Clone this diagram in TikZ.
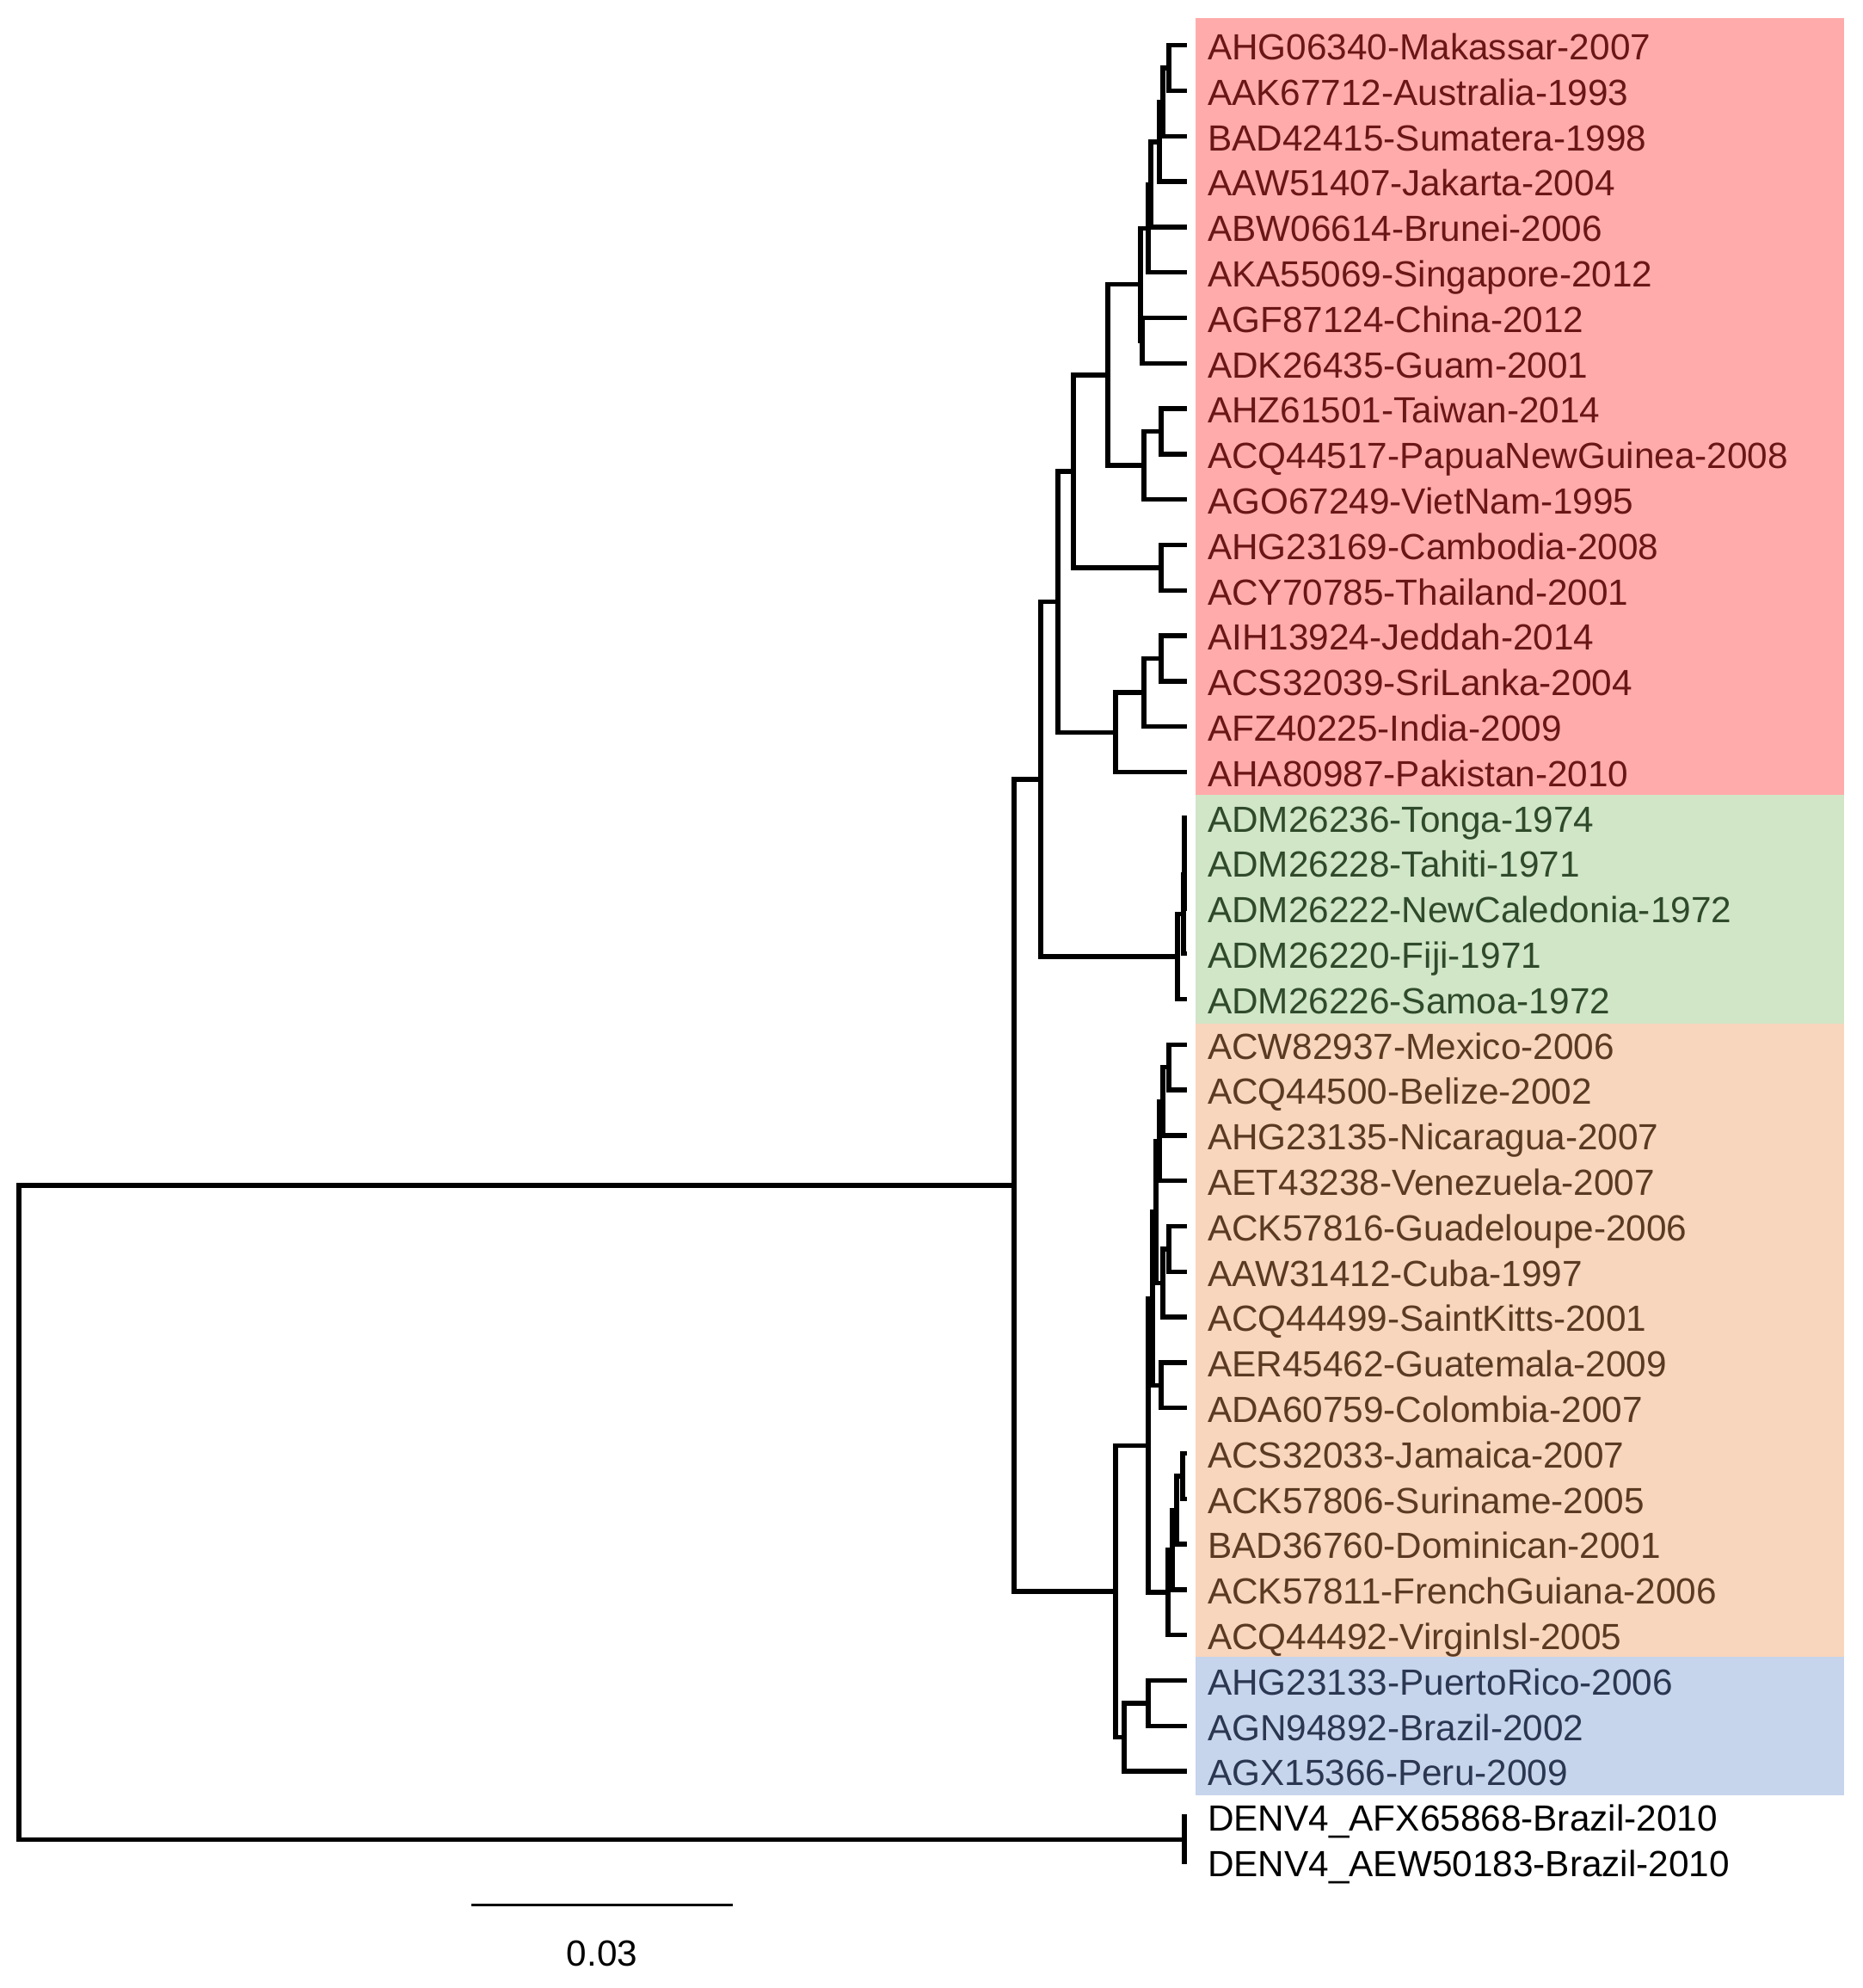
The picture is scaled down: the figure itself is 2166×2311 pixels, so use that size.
\documentclass[tikz,border=0pt]{standalone}
\usepackage{fontspec}
\setmainfont{Liberation Sans}
\usetikzlibrary{calc}
\definecolor{redbg}{HTML}{FFABAB}
\definecolor{greenbg}{HTML}{D1E5C7}
\definecolor{orangebg}{HTML}{F8D5BD}
\definecolor{bluebg}{HTML}{C6D4EC}
\definecolor{redtxt}{HTML}{6B1616}
\definecolor{greentxt}{HTML}{2F4A2A}
\definecolor{orangetxt}{HTML}{5A3A22}
\definecolor{bluetxt}{HTML}{2B3650}
\newcommand\treenode[4]{%
  \path let \p1=(#3), \p2=(#4) in coordinate (#1) at (#2pt, {0.5*(\y1+\y2)});
  \draw[branch] (#3) -| (#1) |- (#4);}
\begin{document}
\begin{tikzpicture}[x=1pt,y=-1pt,
  branch/.style={line width=5.5pt, line join=miter, line cap=butt},
  lbl/.style={anchor=base west, inner sep=0pt, font=\fontsize{42.3}{50}\selectfont}]
\useasboundingbox (0,0) rectangle (2166,2311);
% clade backgrounds
\fill[redbg] (1390,21) rectangle (2144,924);
\fill[greenbg] (1390,924) rectangle (2144,1190);
\fill[orangebg] (1390,1190) rectangle (2144,1926);
\fill[bluebg] (1390,1926) rectangle (2144,2087);
% leaf tips
\foreach \i in {0,...,40} {\coordinate (t\i) at (1380, {52.7+52.8*\i});}
% labels
\foreach \i/\s in {0/AHG06340-Makassar-2007, 1/AAK67712-Australia-1993, 2/BAD42415-Sumatera-1998,
  3/AAW51407-Jakarta-2004, 4/ABW06614-Brunei-2006, 5/AKA55069-Singapore-2012, 6/AGF87124-China-2012,
  7/ADK26435-Guam-2001, 8/AHZ61501-Taiwan-2014, 9/ACQ44517-PapuaNewGuinea-2008, 10/AGO67249-VietNam-1995,
  11/AHG23169-Cambodia-2008, 12/ACY70785-Thailand-2001, 13/AIH13924-Jeddah-2014, 14/ACS32039-SriLanka-2004,
  15/AFZ40225-India-2009, 16/AHA80987-Pakistan-2010}
  {\node[lbl,text=redtxt] (l\i) at (1404, {69.5+52.8*\i}) {\s};}
\foreach \i/\s in {17/ADM26236-Tonga-1974, 18/ADM26228-Tahiti-1971, 19/ADM26222-NewCaledonia-1972,
  20/ADM26220-Fiji-1971, 21/ADM26226-Samoa-1972}
  {\node[lbl,text=greentxt] (l\i) at (1404, {69.5+52.8*\i}) {\s};}
\foreach \i/\s in {22/ACW82937-Mexico-2006, 23/ACQ44500-Belize-2002, 24/AHG23135-Nicaragua-2007,
  25/AET43238-Venezuela-2007, 26/ACK57816-Guadeloupe-2006, 27/AAW31412-Cuba-1997, 28/ACQ44499-SaintKitts-2001,
  29/AER45462-Guatemala-2009, 30/ADA60759-Colombia-2007, 31/ACS32033-Jamaica-2007, 32/ACK57806-Suriname-2005,
  33/BAD36760-Dominican-2001, 34/ACK57811-FrenchGuiana-2006, 35/ACQ44492-VirginIsl-2005}
  {\node[lbl,text=orangetxt] (l\i) at (1404, {69.5+52.8*\i}) {\s};}
\foreach \i/\s in {36/AHG23133-PuertoRico-2006, 37/AGN94892-Brazil-2002, 38/AGX15366-Peru-2009}
  {\node[lbl,text=bluetxt] (l\i) at (1404, {69.5+52.8*\i}) {\s};}
\node[lbl] (l39) at (1404, {69.5+52.8*39}) {DENV4\_AFX65868-Brazil-2010};
\node[lbl] (l40) at (1404, {69.5+52.8*40}) {DENV4\_AEW50183-Brazil-2010};
% red clade
\treenode{A}{1359}{t0}{t1}
\treenode{B}{1352}{A}{t2}
\treenode{C}{1348}{B}{t3}
\treenode{D}{1338}{C}{t4}
\treenode{E}{1335}{D}{t5}
\treenode{G}{1328}{t6}{t7}
\treenode{F}{1326}{E}{G}
\treenode{Y}{1350}{t8}{t9}
\treenode{X}{1330}{Y}{t10}
\treenode{H}{1288}{F}{X}
\treenode{Z}{1350}{t11}{t12}
\treenode{I}{1248}{H}{Z}
\treenode{M}{1350}{t13}{t14}
\treenode{L}{1330}{M}{t15}
\treenode{K}{1297}{L}{t16}
\treenode{J}{1230}{I}{K}
% green clade
\treenode{g1}{1377}{t17}{t18}
\treenode{g2}{1377}{g1}{t19}
\treenode{g3}{1376}{g2}{t20}
\treenode{g4}{1369}{g3}{t21}
\treenode{N}{1210}{J}{g4}
% orange clade
\treenode{a1}{1359}{t22}{t23}
\treenode{a2}{1352}{a1}{t24}
\treenode{a3}{1348}{a2}{t25}
\treenode{b1}{1359}{t26}{t27}
\treenode{b2}{1352}{b1}{t28}
\treenode{a4}{1344}{a3}{b2}
\treenode{c1}{1350}{t29}{t30}
\treenode{a5}{1340}{a4}{c1}
\treenode{d1}{1375}{t31}{t32}
\treenode{d2}{1368}{d1}{t33}
\treenode{d3}{1363}{d2}{t34}
\treenode{R}{1358}{d3}{t35}
\treenode{Q}{1335}{a5}{R}
% blue clade
\treenode{e1}{1335}{t36}{t37}
\treenode{e2}{1307}{e1}{t38}
\treenode{P}{1297}{Q}{e2}
\treenode{O}{1179}{N}{P}
% outgroup and root
\treenode{og}{1377}{t39}{t40}
\treenode{root}{22}{O}{og}
% scale bar
\coordinate (sb1) at (548,2214);
\coordinate (sb2) at (852,2214);
\draw[line width=3pt] (sb1) -- (sb2);
\node[anchor=base, inner sep=0pt, font=\fontsize{42.3}{50}\selectfont] (sbl) at (700,2285) {0.03};
\end{tikzpicture}
\end{document}
